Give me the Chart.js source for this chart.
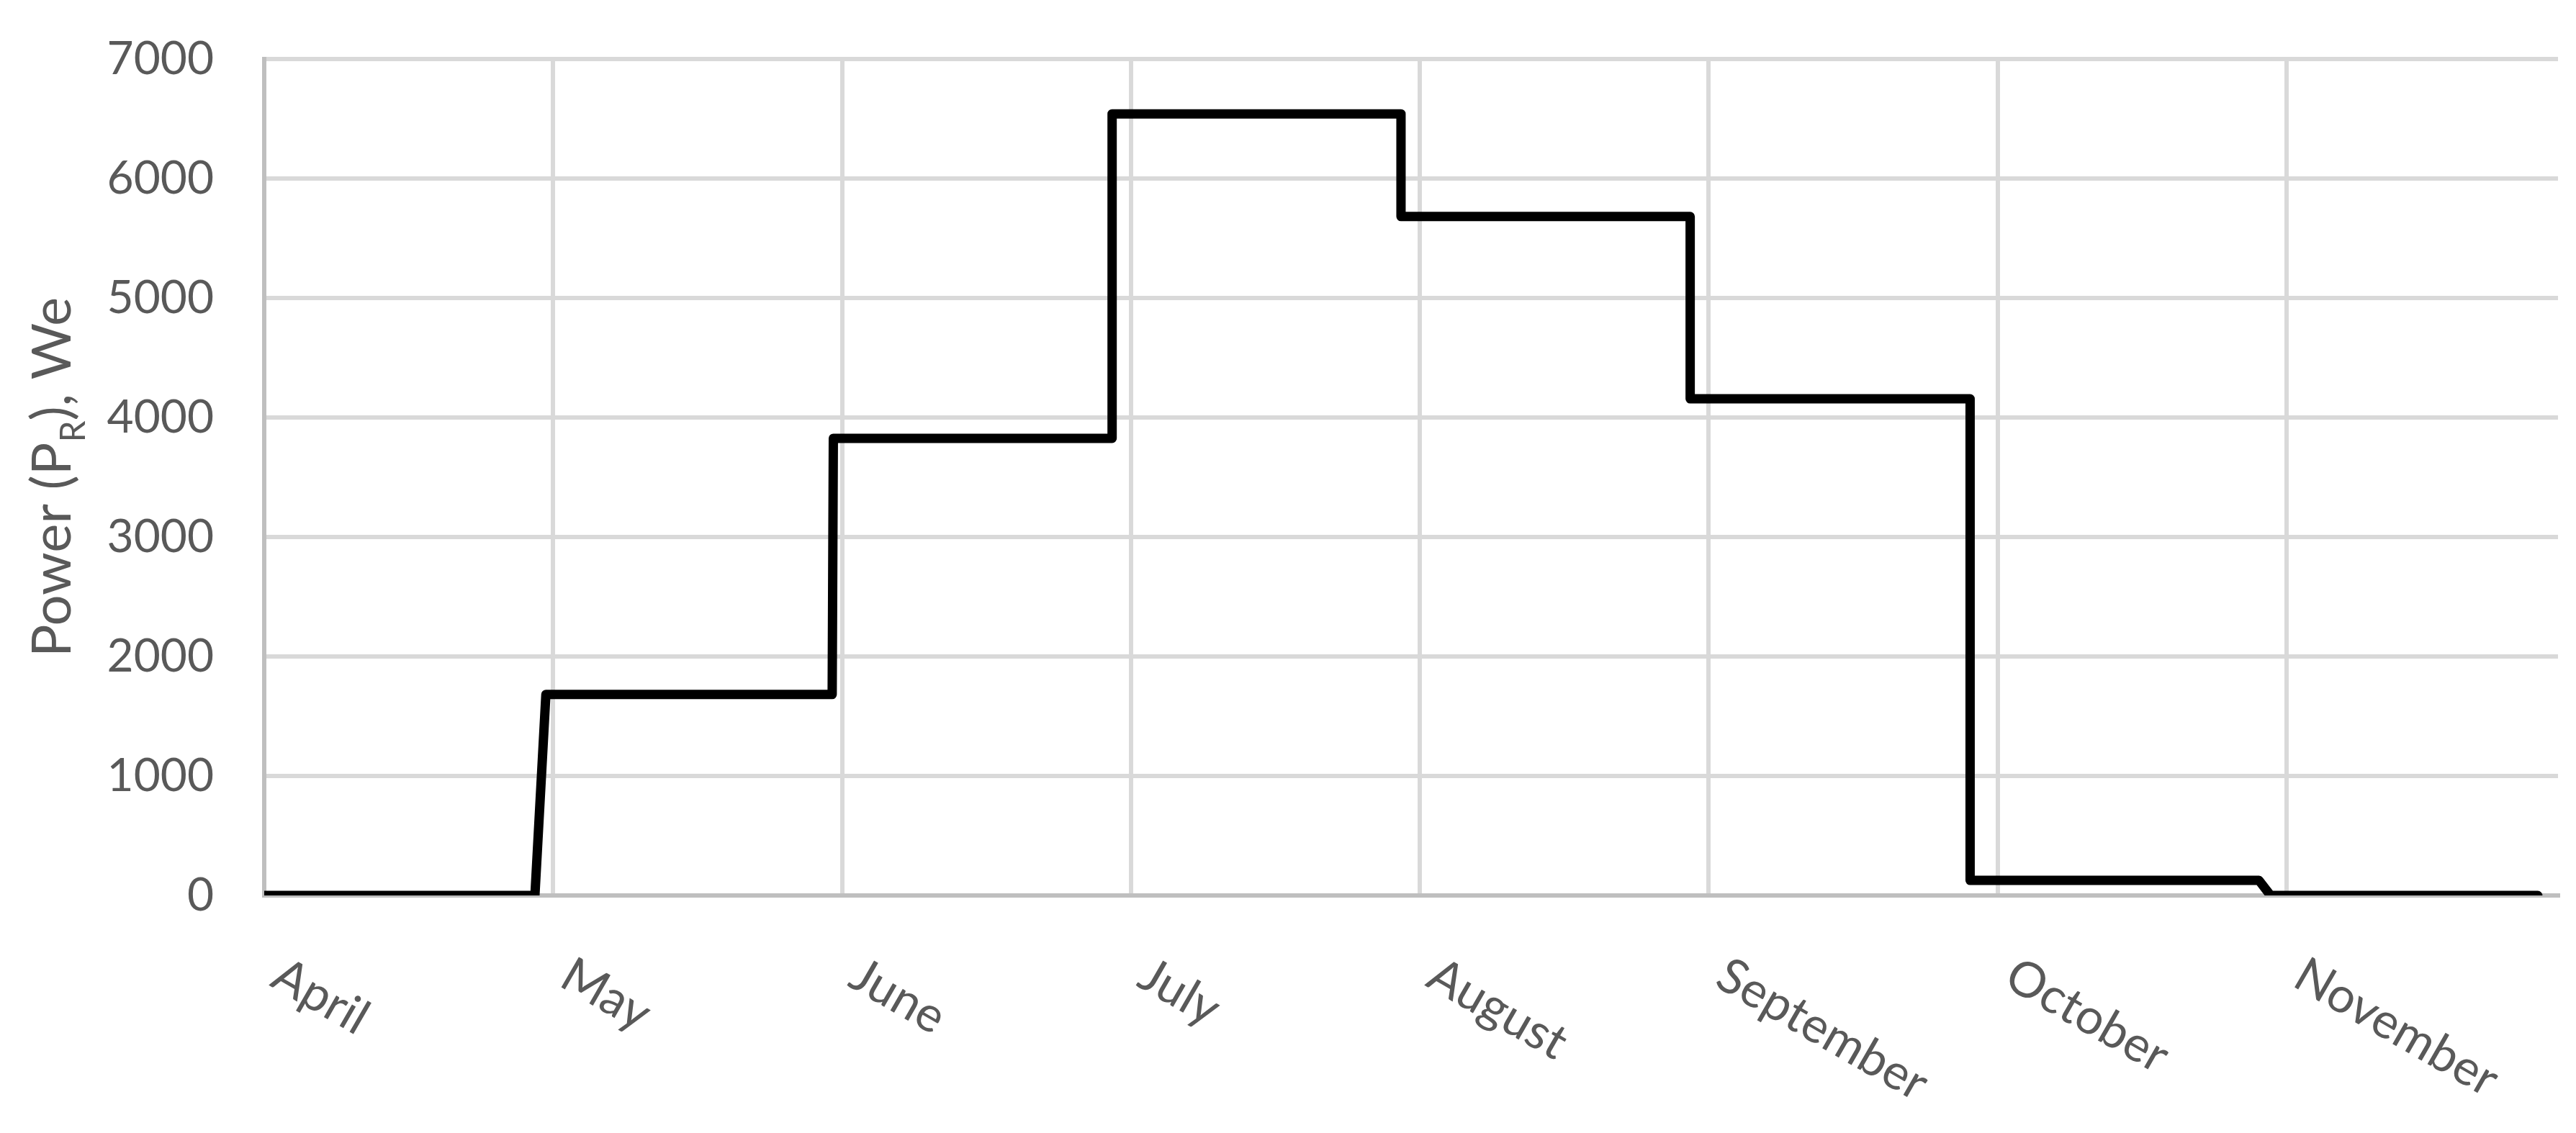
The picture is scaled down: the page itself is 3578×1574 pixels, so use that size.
<!DOCTYPE html>
<html>
<head>
<meta charset="utf-8">
<script src="https://cdn.jsdelivr.net/npm/chart.js@4/dist/chart.umd.min.js"></script>
<style>
  html, body { margin: 0; padding: 0; background: #fff; }
  #wrap { width: 3578px; height: 1574px; }
</style>
</head>
<body>
<div id="wrap"><canvas id="chart" width="3578" height="1574"></canvas></div>
<script>
// === data ===
// x is in months counted from the start of April (0 = April, 1 = May, ...)
const months = ['April', 'May', 'June', 'July', 'August', 'September', 'October', 'November'];
const stepX  = [0, 0.937, 0.975, 1.966, 1.970, 2.935, 2.935, 3.935, 3.935, 4.936, 4.936, 5.905, 5.905, 6.905, 6.945, 7.87];
const powerW = [0, 0,     1682,  1682,  3826,  3826,  6541,  6541,  5682,  5682,  4156,  4156,  126,   126,   0,     0];
const yTicks = [0, 1000, 2000, 3000, 4000, 5000, 6000, 7000];

const FONT = 'Lato, "Open Sans", sans-serif';
const TEXT = '#595959';

// rotated month labels (text runs down to the right) + y title with subscript
const axisText = {
  id: 'axisText',
  afterDraw(chart) {
    const ctx = chart.ctx, xs = chart.scales.x, area = chart.chartArea;
    ctx.save();
    ctx.fillStyle = TEXT;
    ctx.font = '68px ' + FONT;
    ctx.textAlign = 'left';
    ctx.textBaseline = 'top';
    months.forEach((m, i) => {
      ctx.save();
      ctx.translate(xs.getPixelForValue(i) + 34, area.bottom + 76);
      ctx.rotate(Math.PI / 6);
      ctx.fillText(m, 0, 0);
      ctx.restore();
    });
    // y axis title: Power (P_R), We
    const big = '76px ' + FONT, small = '48px ' + FONT;
    const a = 'Power (P', b = 'R', c = '), We';
    ctx.font = big;  const wa = ctx.measureText(a).width, wc = ctx.measureText(c).width;
    ctx.font = small; const wb = ctx.measureText(b).width;
    const total = wa + wb + wc;
    ctx.translate(98, (area.top + area.bottom) / 2);
    ctx.rotate(-Math.PI / 2);
    ctx.textBaseline = 'alphabetic';
    let x = -total / 2;
    ctx.font = big;  ctx.fillText(a, x, 0); x += wa;
    ctx.font = small; ctx.fillText(b, x, 20); x += wb;
    ctx.font = big;  ctx.fillText(c, x, 0);
    ctx.restore();
  }
};

new Chart(document.getElementById('chart'), {
  type: 'line',
  data: {
    datasets: [{
      data: stepX.map((x, i) => ({ x, y: powerW[i] })),
      borderColor: '#000',
      borderWidth: 13,
      borderJoinStyle: 'round',
      borderCapStyle: 'round',
      pointRadius: 0,
      tension: 0,
      fill: false
    }]
  },
  options: {
    responsive: false,
    devicePixelRatio: 1,
    animation: false,
    layout: { padding: { top: 82, right: 25, bottom: 330, left: 0 } },
    plugins: { legend: { display: false }, tooltip: { enabled: false } },
    scales: {
      x: {
        type: 'linear',
        min: 0,
        max: 7.94,
        afterBuildTicks: s => { s.ticks = months.map((m, i) => ({ value: i })); },
        ticks: { display: false },
        grid: { color: '#d9d9d9', lineWidth: 6, drawTicks: false },
        border: { color: '#bfbfbf', width: 6 }
      },
      y: {
        min: 0,
        max: 7000,
        afterBuildTicks: s => { s.ticks = yTicks.map(v => ({ value: v })); },
        afterFit: s => { s.width = 367; s.paddingTop = 0; s.paddingBottom = 0; },
        ticks: { color: TEXT, font: { family: FONT, size: 64 }, padding: 70, callback: v => String(v) },
        grid: { color: '#d9d9d9', lineWidth: 6, drawTicks: false },
        border: { color: '#bfbfbf', width: 6 }
      }
    }
  },
  plugins: [axisText]
});
</script>
</body>
</html>
